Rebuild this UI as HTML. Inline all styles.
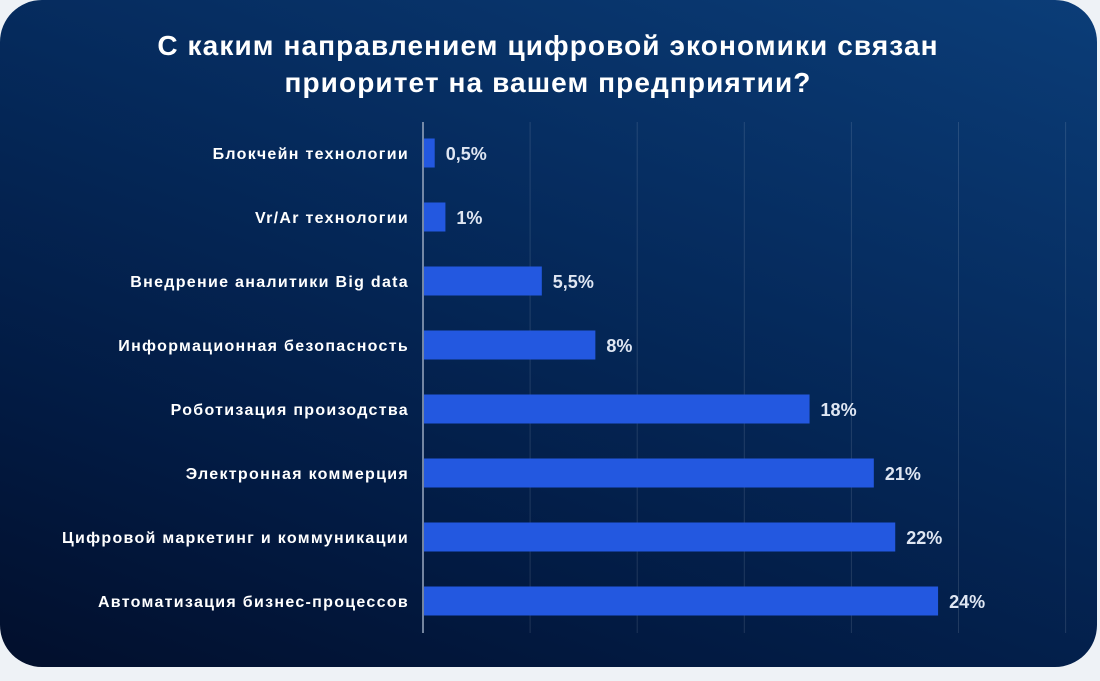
<!DOCTYPE html>
<html><head><meta charset="utf-8"><style>
body{margin:0;width:1100px;height:681px;background:#eef2f6;overflow:hidden;font-family:"Liberation Sans",sans-serif}
#card{position:absolute;left:0;top:0;width:1097px;height:667px;border-radius:42px;background:linear-gradient(200deg,#0b3d78 0%,#052a5c 40%,#021a42 75%,#020f2c 100%);overflow:hidden}
</style></head><body>
<div id="card">
<svg id="chart" width="1097" height="667">
<text x="548" y="55" text-anchor="middle" fill="#fff" font-size="28" font-weight="bold" letter-spacing="1.1">С каким направлением цифровой экономики связан</text>
<text x="548" y="92" text-anchor="middle" fill="#fff" font-size="28" font-weight="bold" letter-spacing="1.1">приоритет на вашем предприятии?</text>
<g id="grid"></g><g id="bars"></g>
</svg></div>
<script>
const categories=["Блокчейн технологии","Vr/Ar технологии","Внедрение аналитики Big data","Информационная безопасность","Роботизация произодства","Электронная коммерция","Цифровой маркетинг и коммуникации","Автоматизация бизнес-процессов"];
const values=[0.5,1,5.5,8,18,21,22,24];
const valueLabels=["0,5%","1%","5,5%","8%","18%","21%","22%","24%"];
const gridTicks=[5,10,15,20,25,30];
const NS="http://www.w3.org/2000/svg";
const x0=423,pxPer=21.42,y0=153,step=64,bh=29;
const xs=v=>x0+v*pxPer, ys=i=>y0+i*step;
function mk(t,a){const e=document.createElementNS(NS,t);for(const k in a)e.setAttribute(k,a[k]);return e;}
const grid=document.getElementById('grid'),bars=document.getElementById('bars');
gridTicks.forEach(t=>{const l=mk('line',{x1:xs(t),x2:xs(t),y1:122,y2:633,stroke:'rgba(255,255,255,0.12)','stroke-width':1});


grid.appendChild(l);});
const ax=mk('line',{x1:x0,x2:x0,y1:122,y2:633,stroke:'#9aa8bf','stroke-width':1.5});


grid.appendChild(ax);
categories.forEach((c,i)=>{const y=ys(i);
const r=mk('rect',{x:x0+1,y:y-bh/2,width:xs(values[i])-x0,height:bh,fill:'#2358e0'});


bars.appendChild(r);
const lb=mk('text',{x:409,y:y+6,'text-anchor':'end',fill:'#fff','font-size':16,'font-weight':'bold','letter-spacing':1.3});lb.textContent=c;


bars.appendChild(lb);
const vl=mk('text',{x:xs(values[i])+12,y:y+7,fill:'#dfe6f2','font-size':18,'font-weight':'bold'});vl.textContent=valueLabels[i];


bars.appendChild(vl);});
</script>
</body></html>
